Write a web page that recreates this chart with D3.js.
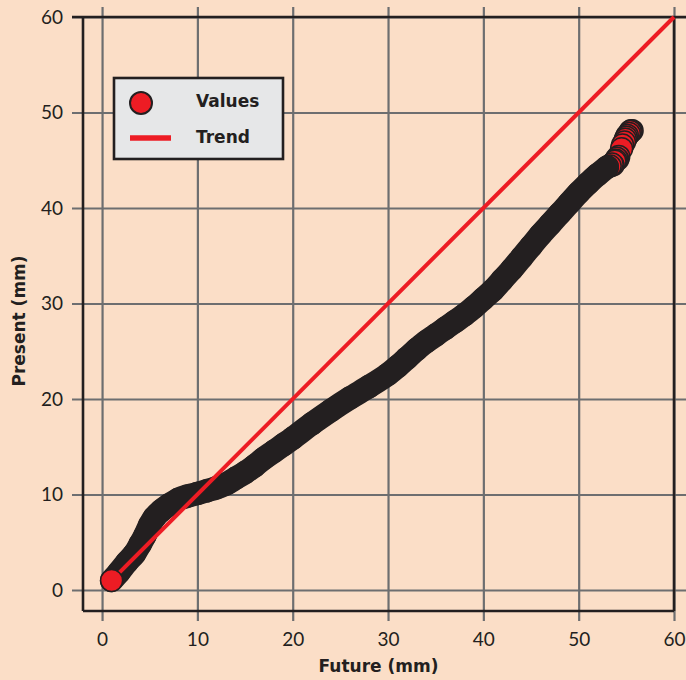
<!DOCTYPE html>
<html>
<head>
<meta charset="utf-8">
<script src="https://cdn.jsdelivr.net/npm/d3@7/dist/d3.min.js"></script>
<style>
  html, body { margin: 0; padding: 0; background: #fbdec7; }
  svg { display: block; }
  text { font-family: Lato, "Open Sans", sans-serif; fill: #231f20; }
  .bold { font-family: "DejaVu Sans", sans-serif; font-weight: bold; }
</style>
</head>
<body>
<svg id="chart" width="686" height="680"></svg>
<script>
// ---- data ----
const bodyFuture  = [1.0, 1.8, 2.6, 3.4, 4.0, 4.5, 5.0, 5.5, 6.2, 7.0, 8.0, 9.0, 10.0, 11.0, 12.0, 13.0, 14.0, 15.0, 16.0, 17.0, 18.0, 19.0, 20.0, 22.0, 24.0, 26.0, 28.0, 30.0, 31.0, 32.0, 33.0, 34.0, 35.0, 36.0, 37.0, 38.0, 39.0, 40.0, 41.0, 42.0, 43.0, 44.0, 45.0, 46.0, 47.0, 48.0, 49.0, 50.0, 51.0, 52.0, 53.0];
const bodyPresent = [1.0, 1.9, 2.9, 3.8, 4.8, 5.7, 6.8, 7.6, 8.3, 8.9, 9.5, 9.85, 10.1, 10.4, 10.7, 11.1, 11.7, 12.3, 13.0, 13.8, 14.5, 15.2, 15.9, 17.4, 18.8, 20.1, 21.3, 22.6, 23.4, 24.3, 25.2, 26.0, 26.7, 27.4, 28.1, 28.8, 29.6, 30.5, 31.4, 32.5, 33.6, 34.8, 36.0, 37.2, 38.3, 39.4, 40.5, 41.6, 42.6, 43.5, 44.3];
const tipFuture   = [53.3, 53.5, 53.6, 53.8, 53.9, 54.0, 54.1, 54.2, 54.5, 54.6, 54.8, 54.9, 55.0, 55.1, 55.3, 55.4, 55.5, 55.6];
const tipPresent  = [44.4, 44.6, 44.5, 44.9, 45.0, 45.2, 45.1, 45.4, 46.2, 46.6, 46.9, 47.2, 47.4, 47.6, 47.8, 48.0, 48.1, 48.1];
const trendFuture  = [1, 60];
const trendPresent = [1, 60];
const tickValues = [0, 10, 20, 30, 40, 50, 60];
const legendLabels = ["Values", "Trend"];

const RED = "#ed1c24", INK = "#231f20", GRID = "#6d6e70";
const R = 11, SW = 1.5;

const svg = d3.select("#chart");
const x = d3.scaleLinear().domain([-2, 60]).range([83, 674]);
const y = d3.scaleLinear().domain([-2.2, 60]).range([611, 17]);

// grid via axes
const gx = svg.append("g").attr("transform", "translate(0,621)")
  .call(d3.axisBottom(x).tickValues(tickValues).tickSize(-614).tickPadding(12).tickFormat(d3.format("d")));
const gy = svg.append("g").attr("transform", "translate(72,0)")
  .call(d3.axisLeft(y).tickValues(tickValues).tickSize(-614).tickPadding(9).tickFormat(d3.format("d")));
[gx, gy].forEach(g => {
  g.select(".domain").remove();
  g.selectAll(".tick line").attr("stroke", GRID).attr("stroke-width", 2.2);
  g.selectAll(".tick text").attr("font-size", 19).attr("fill", INK).style("font-family", "Lato, sans-serif");
});

// frame
const frame = svg.append("g").attr("stroke", INK).attr("stroke-width", 2.6).attr("fill", "none");
frame.append("line").attr("x1", 72).attr("x2", 686).attr("y1", y(60)).attr("y2", y(60));
frame.append("line").attr("x1", x(-2)).attr("x2", x(-2)).attr("y1", y(60)).attr("y2", y(-2.2));
frame.append("line").attr("x1", x(-2)).attr("x2", x(60)).attr("y1", y(-2.2)).attr("y2", y(-2.2));
frame.append("line").attr("x1", x(60)).attr("x2", x(60)).attr("y1", y(60)).attr("y2", y(-2.2));

// points: drawn from the far end back to the start (overplotting)
const tip = tipFuture.map((f, i) => ({f, p: tipPresent[i]}));
const body = bodyFuture.map((f, i) => ({f, p: bodyPresent[i]}));

const pts = svg.append("g");
pts.selectAll("circle.tip").data(tip.slice().reverse()).enter().append("circle")
  .attr("class", "tip")
  .attr("cx", d => x(d.f)).attr("cy", d => y(d.p)).attr("r", R)
  .attr("fill", RED).attr("stroke", INK).attr("stroke-width", SW);

pts.selectAll("circle.body").data(body.slice(1).reverse()).enter().append("circle")
  .attr("class", "body")
  .attr("cx", d => x(d.f)).attr("cy", d => y(d.p)).attr("r", R)
  .attr("fill", RED).attr("stroke", INK).attr("stroke-width", SW);

// dense overplotted run appears as a solid dark band
pts.append("path")
  .datum(body)
  .attr("d", d3.line().x(d => x(d.f)).y(d => y(d.p)).curve(d3.curveCatmullRom))
  .attr("fill", "none").attr("stroke", INK)
  .attr("stroke-width", 2 * R + SW)
  .attr("stroke-linecap", "round").attr("stroke-linejoin", "round");

// trend line
svg.append("path")
  .datum(trendFuture.map((f, i) => ({f, p: trendPresent[i]})))
  .attr("d", d3.line().x(d => x(d.f)).y(d => y(d.p)))
  .attr("fill", "none").attr("stroke", RED).attr("stroke-width", 4);

// first point on top
svg.append("circle")
  .attr("cx", x(body[0].f)).attr("cy", y(body[0].p)).attr("r", R)
  .attr("fill", RED).attr("stroke", INK).attr("stroke-width", SW);

// axis titles
svg.append("text").attr("class", "bold").attr("x", x(29)).attr("y", 672).attr("text-anchor", "middle")
  .attr("font-size", 17).text("Future (mm)");
svg.append("text").attr("class", "bold").attr("transform", "translate(25,321) rotate(-90)").attr("text-anchor", "middle")
  .attr("font-size", 17).text("Present (mm)");

// legend
const lg = svg.append("g");
lg.append("rect").attr("x", 114).attr("y", 78).attr("width", 169).attr("height", 81)
  .attr("fill", "#e6e7e8").attr("stroke", INK).attr("stroke-width", 2.6);
lg.append("circle").attr("cx", 141).attr("cy", 103).attr("r", R)
  .attr("fill", RED).attr("stroke", INK).attr("stroke-width", SW + 0.5);
lg.append("line").attr("x1", 130).attr("x2", 171).attr("y1", 138).attr("y2", 138)
  .attr("stroke", RED).attr("stroke-width", 5.5);
lg.selectAll("text.lbl").data(legendLabels).enter().append("text")
  .attr("class", "lbl bold")
  .attr("x", 196).attr("y", (d, i) => 107 + i * 35.5)
  .attr("font-size", 17).text(d => d);
</script>
</body>
</html>
